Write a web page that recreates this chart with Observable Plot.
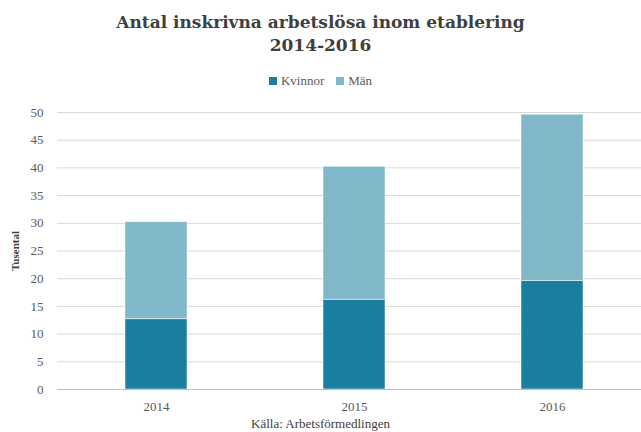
<!DOCTYPE html>
<html>
<head>
<meta charset="utf-8">
<script src="https://cdn.jsdelivr.net/npm/d3@7"></script>
<script src="https://cdn.jsdelivr.net/npm/@observablehq/plot@0.6"></script>
<style>
  body { margin: 0; background: #fff; font-family: "Liberation Serif", serif; color: #404040; }
  #wrap { width: 641px; height: 432px; position: relative; overflow: hidden; }
  #title { position: absolute; top: 11px; left: 0; width: 641px; text-align: center; font-family: "DejaVu Serif", serif; font-weight: bold; font-size: 17px; line-height: 23px; color: #404040; }
  #legend { position: absolute; top: 73px; left: 0; width: 641px; text-align: center; font-size: 13px; color: #595959; }
  #legend span.sw { display: inline-block; width: 8px; height: 8px; margin-right: 4px; vertical-align: 0px; }
  #legend span.item { margin: 0 6px; }
  #chart { position: absolute; top: 95px; left: 0; }
  #caption { position: absolute; top: 416px; left: 0; width: 641px; text-align: center; font-size: 13px; color: #404040; }
</style>
</head>
<body>
<div id="wrap">
  <div id="title">Antal inskrivna arbetslösa inom etablering<br>2014-2016</div>
  <div id="legend"></div>
  <div id="chart"></div>
  <div id="caption">Källa: Arbetsförmedlingen</div>
</div>
<script>
const years = ["2014", "2015", "2016"];
const kvinnor = [12.7, 16.2, 19.6];
const man = [17.5, 24.0, 30.0];
const seriesNames = ["Kvinnor", "Män"];
const seriesColors = ["#1a7f9e", "#80b8c9"];
const yTicks = [0, 5, 10, 15, 20, 25, 30, 35, 40, 45, 50];

const data = [];
years.forEach((y, i) => {
  data.push({year: y, series: "Kvinnor", value: kvinnor[i]});
  data.push({year: y, series: "Män", value: man[i]});
});

const legend = document.getElementById("legend");
seriesNames.forEach((s, i) => {
  const it = document.createElement("span");
  it.className = "item";
  it.innerHTML = `<span class="sw" style="background:${seriesColors[i]}"></span>${s}`;
  legend.appendChild(it);
});

const chart = Plot.plot({
  width: 641,
  height: 322,
  marginLeft: 57,
  marginRight: -10,
  marginTop: 17,
  marginBottom: 28,
  style: {fontFamily: "'Liberation Serif', serif", fontSize: "13px", color: "#595959", background: "transparent"},
  x: {domain: years, paddingInner: 0.685, paddingOuter: 0.3425, align: 0.5, label: null},
  y: {domain: [0, 50], ticks: yTicks, label: null},
  color: {domain: seriesNames, range: seriesColors},
  marks: [
    Plot.gridY(yTicks, {stroke: "#d9d9d9", strokeOpacity: 1, strokeWidth: 1}),
    Plot.axisY({ticks: yTicks, tickSize: 0, tickPadding: 14, fontSize: 13, label: null}),
    Plot.axisX({tickSize: 0, tickPadding: 12, fontSize: 13, label: null}),
    Plot.barY(data, Plot.stackY({x: "year", y: "value", fill: "series", order: seriesNames, stroke: "#ffffff", strokeOpacity: 0.5, strokeWidth: 1})),
    Plot.ruleY([0], {stroke: "#bfbfbf"}),
    Plot.text(["Tusental"], {frameAnchor: "left", textAnchor: "middle", dx: -42, rotate: -90, fontWeight: "bold", fontSize: 11, fill: "#404040"})
  ]
});
document.getElementById("chart").appendChild(chart);
</script>
</body>
</html>
